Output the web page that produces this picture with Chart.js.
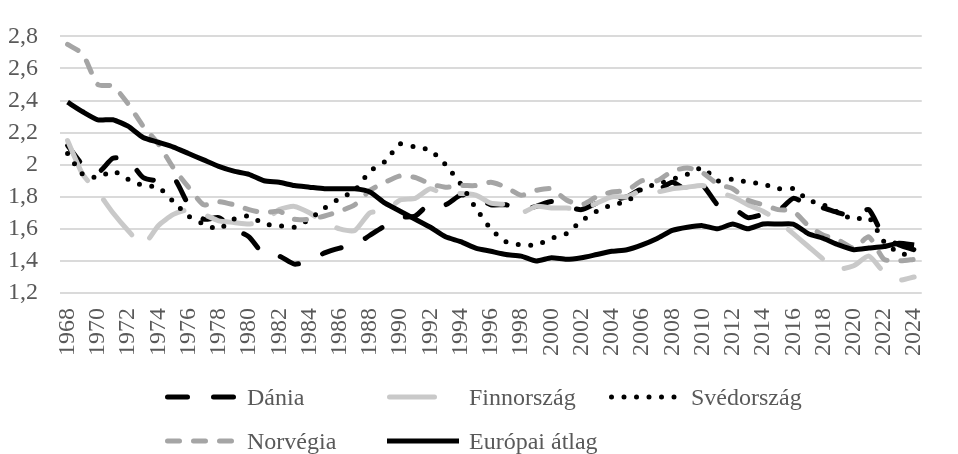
<!DOCTYPE html>
<html lang="hu">
<head>
<meta charset="utf-8">
<title>Teljes termékenységi arányszám</title>
<script src="https://cdn.jsdelivr.net/npm/chart.js@4.4.1/dist/chart.umd.min.js"></script>
<style>
  html, body { margin: 0; padding: 0; background: #fff; }
  #wrap { width: 958px; height: 454px; }
</style>
</head>
<body>
<div id="wrap"><canvas id="chart"></canvas></div>
<script>
const years = [
  '1968', '1969', '1970', '1971', '1972', '1973', '1974', '1975', '1976', '1977',
  '1978', '1979', '1980', '1981', '1982', '1983', '1984', '1985', '1986', '1987',
  '1988', '1989', '1990', '1991', '1992', '1993', '1994', '1995', '1996', '1997',
  '1998', '1999', '2000', '2001', '2002', '2003', '2004', '2005', '2006', '2007',
  '2008', '2009', '2010', '2011', '2012', '2013', '2014', '2015', '2016', '2017',
  '2018', '2019', '2020', '2021', '2022', '2023', '2024'
]

const dania = [
  2.12, 2.00, 1.95, 2.04, 2.03, 1.92, 1.90, 1.92, 1.75, 1.66,
  1.67, 1.60, 1.55, 1.44, 1.43, 1.38, 1.40, 1.45, 1.48, 1.50,
  1.56, 1.62, 1.67, 1.68, 1.76, 1.75, 1.81, 1.80, 1.75, 1.75,
  1.72, 1.74, 1.77, 1.74, 1.72, 1.76, 1.78, 1.80, 1.85, 1.84,
  1.89, 1.84, 1.87, 1.75, 1.73, 1.67, 1.69, 1.71, 1.79, 1.75,
  1.73, 1.70, 1.68, 1.72, 1.55, 1.50, 1.47
]

const finnorszag = [
  2.15, 1.94, 1.83, 1.70, 1.59, 1.50, 1.62, 1.69, 1.72, 1.69,
  1.65, 1.64, 1.63, 1.65, 1.72, 1.74, 1.70, 1.64, 1.60, 1.59,
  1.70, 1.71, 1.78, 1.79, 1.85, 1.81, 1.82, 1.81, 1.76, 1.75,
  1.70, 1.74, 1.73, 1.73, 1.72, 1.76, 1.80, 1.80, 1.84, 1.83,
  1.85, 1.86, 1.87, 1.83, 1.80, 1.75, 1.71, 1.65, 1.57, 1.49,
  1.41, 1.35, 1.37, 1.43, 1.33, 1.28, 1.30
]

const svedorszag = [
  2.07, 1.94, 1.92, 1.96, 1.91, 1.87, 1.86, 1.77, 1.68, 1.63,
  1.60, 1.66, 1.68, 1.63, 1.62, 1.61, 1.66, 1.73, 1.79, 1.84,
  1.96, 2.02, 2.13, 2.11, 2.09, 2.00, 1.88, 1.73, 1.60, 1.52,
  1.50, 1.50, 1.54, 1.57, 1.65, 1.71, 1.75, 1.77, 1.85, 1.88,
  1.91, 1.94, 1.98, 1.90, 1.91, 1.89, 1.88, 1.85, 1.85, 1.78,
  1.75, 1.70, 1.66, 1.67, 1.52, 1.45, 1.43
]

const norvegia = [
  2.75, 2.69, 2.50, 2.49, 2.38, 2.24, 2.13, 1.98, 1.86, 1.75,
  1.77, 1.75, 1.72, 1.70, 1.71, 1.66, 1.66, 1.68, 1.71, 1.75,
  1.84, 1.89, 1.93, 1.92, 1.88, 1.86, 1.87, 1.87, 1.89, 1.86,
  1.81, 1.84, 1.85, 1.78, 1.75, 1.80, 1.83, 1.84, 1.90, 1.90,
  1.96, 1.98, 1.95, 1.88, 1.85, 1.78, 1.75, 1.72, 1.71, 1.62,
  1.56, 1.53, 1.48, 1.55, 1.41, 1.40, 1.41
]

const europaiAtlag = [
  2.39, 2.33, 2.28, 2.28, 2.24, 2.17, 2.14, 2.11, 2.07, 2.03,
  1.99, 1.96, 1.94, 1.90, 1.89, 1.87, 1.86, 1.85, 1.85, 1.85,
  1.83, 1.76, 1.71, 1.66, 1.61, 1.55, 1.52, 1.48, 1.46, 1.44,
  1.43, 1.40, 1.42, 1.41, 1.42, 1.44, 1.46, 1.47, 1.50, 1.54,
  1.59, 1.61, 1.62, 1.60, 1.63, 1.60, 1.63, 1.63, 1.63, 1.57,
  1.54, 1.50, 1.47, 1.48, 1.49, 1.51, 1.50
]

const yTicks = [1.2, 1.4, 1.6, 1.8, 2.0, 2.2, 2.4, 2.6, 2.8]
const yTickLabels = ['1,2', '1,4', '1,6', '1,8', '2', '2,2', '2,4', '2,6', '2,8']

const FONT = "'Liberation Serif', 'Times New Roman', serif"
const TEXT_COLOR = '#595959'

// Excel-style legend: fixed columns, two rows under the axis
const gridLegend = {
  id: 'gridLegend',
  afterDraw(chart) {
    const ctx = chart.ctx
    const rows = [[0, 1, 2], [3, 4]]
    ctx.save()
    ctx.font = `24px ${FONT}`
    ctx.fillStyle = TEXT_COLOR
    ctx.textBaseline = 'alphabetic'
    rows.forEach((row, r) => {
      const y = chart.height - 57 + r * 44
      row.forEach((idx, c) => {
        const ds = chart.data.datasets[idx]
        const x = 165 + c * 222
        const cap = ds.borderCapStyle === 'round' ? ds.borderWidth / 2 : 0
        ctx.beginPath()
        ctx.setLineDash(ds.borderDash || [])
        ctx.lineCap = ds.borderCapStyle || 'butt'
        ctx.lineWidth = ds.borderWidth
        ctx.strokeStyle = ds.borderColor
        ctx.moveTo(x + cap, y)
        ctx.lineTo(x + 72 - cap, y)
        ctx.stroke()
        ctx.setLineDash([])
        ctx.fillText(ds.label, x + 82, y + 8)
      })
    })
    ctx.restore()
  }
}

new Chart(document.getElementById('chart'), {
  type: 'line',
  data: {
    labels: years,
    datasets: [
      {
        label: 'Dánia',
        data: dania,
        borderColor: '#000000',
        borderWidth: 5,
        borderDash: [20, 26],
        borderCapStyle: 'round',
        order: 5
      },
      {
        label: 'Finnország',
        data: finnorszag,
        borderColor: '#c9c9c9',
        borderWidth: 5,
        borderDash: [45, 25],
        borderCapStyle: 'round',
        order: 4
      },
      {
        label: 'Svédország',
        data: svedorszag,
        borderColor: '#000000',
        borderWidth: 5,
        borderDash: [0, 12.5],
        borderCapStyle: 'round',
        order: 3
      },
      {
        label: 'Norvégia',
        data: norvegia,
        borderColor: '#a5a5a5',
        borderWidth: 5,
        borderDash: [12, 14],
        borderCapStyle: 'round',
        order: 2
      },
      {
        label: 'Európai átlag',
        data: europaiAtlag,
        borderColor: '#000000',
        borderWidth: 5,
        borderCapStyle: 'butt',
        order: 1
      }
    ]
  },
  options: {
    responsive: true,
    maintainAspectRatio: false,
    animation: false,
    layout: {
      padding: { top: 22, right: 2, bottom: 91, left: 0 }
    },
    elements: {
      point: { radius: 0, hoverRadius: 0 },
      line: { tension: 0.2, borderJoinStyle: 'round' }
    },
    scales: {
      x: {
        offset: true,
        grid: { display: false, drawTicks: false },
        border: { display: false },
        afterFit: scale => { scale.height = 70 },
        ticks: {
          autoSkip: false,
          minRotation: 90,
          maxRotation: 90,
          padding: 15,
          color: TEXT_COLOR,
          font: { family: FONT, size: 24 },
          callback: (value, index) => index % 2 === 0 ? years[index] : ''
        }
      },
      y: {
        min: 1.2,
        max: 2.8,
        grid: { color: '#dadada', lineWidth: 2, drawTicks: false },
        border: { display: false },
        afterFit: scale => { scale.width = 60 },
        afterBuildTicks: axis => { axis.ticks = yTicks.map(v => ({ value: v })) },
        ticks: {
          padding: 22,
          color: TEXT_COLOR,
          font: { family: FONT, size: 24 },
          callback: (value, index) => yTickLabels[index]
        }
      }
    },
    plugins: {
      legend: { display: false },
      tooltip: { enabled: false }
    }
  },
  plugins: [gridLegend]
})
</script>
</body>
</html>
